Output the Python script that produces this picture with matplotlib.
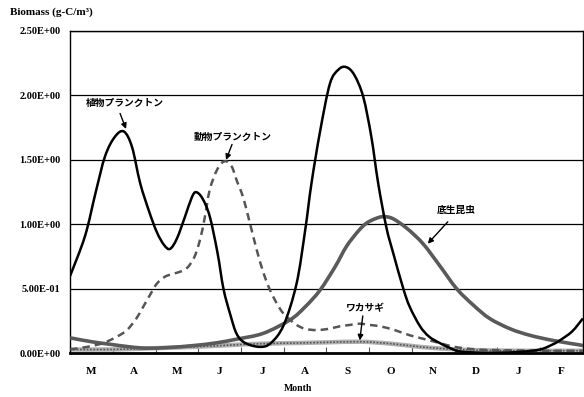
import matplotlib.pyplot as plt
from matplotlib.path import Path
from matplotlib.patches import PathPatch
import numpy as np

# month positions (0 = start of March) and values
month_labels = ["M", "A", "M", "J", "J", "A", "S", "O", "N", "D", "J", "F"]
y_ticks = [0.0, 0.5, 1.0, 1.5, 2.0, 2.5]
y_tick_labels = ["0.00E+00", "5.00E-01", "1.00E+00", "1.50E+00", "2.00E+00", "2.50E+00"]

phyto_x = [0.0, 0.35, 0.6, 0.82, 1.05, 1.26, 1.45, 1.64, 1.85, 2.03, 2.2, 2.34, 2.5,
           2.69, 2.85, 2.95, 3.1, 3.27, 3.45, 3.59, 3.75, 3.9, 4.1, 4.44, 4.7, 5.0,
           5.3, 5.5, 5.65, 5.85, 6.08, 6.28, 6.46, 6.65, 6.86, 7.05, 7.21, 7.4, 7.56,
           7.8, 7.95, 8.19, 8.4, 8.65, 8.9, 9.12, 9.6, 10.0, 10.5, 11.0, 11.3, 11.46,
           11.75, 12.0]
phyto_y = [0.60, 0.91, 1.25, 1.53, 1.68, 1.72, 1.60, 1.32, 1.10, 0.94, 0.84, 0.81, 0.89,
           1.06, 1.21, 1.25, 1.20, 1.06, 0.78, 0.50, 0.30, 0.15, 0.08, 0.05, 0.08, 0.22,
           0.54, 0.95, 1.32, 1.72, 2.09, 2.20, 2.22, 2.16, 1.99, 1.68, 1.32, 0.98, 0.78,
           0.50, 0.36, 0.21, 0.13, 0.08, 0.04, 0.015, 0.005, 0.005, 0.01, 0.03, 0.07, 0.10,
           0.17, 0.27]

zoo_x = [0.0, 0.4, 0.78, 1.1, 1.33, 1.55, 1.71, 1.9, 2.03, 2.2, 2.34, 2.55, 2.73, 2.9,
         3.04, 3.15, 3.27, 3.45, 3.62, 3.78, 3.9, 4.05, 4.2, 4.37, 4.52, 4.68, 4.85, 4.99,
         5.15, 5.3, 5.5, 5.77, 6.05, 6.32, 6.55, 6.78, 7.0, 7.25, 7.6, 7.95, 8.3, 8.65,
         9.0, 9.5, 10.0, 11.0, 12.0]
zoo_y = [0.03, 0.05, 0.08, 0.13, 0.18, 0.27, 0.36, 0.47, 0.54, 0.59, 0.61, 0.63, 0.66, 0.74,
         0.88, 1.05, 1.27, 1.43, 1.49, 1.45, 1.34, 1.21, 1.02, 0.80, 0.63, 0.49, 0.38, 0.31,
         0.26, 0.22, 0.19, 0.18, 0.19, 0.21, 0.22, 0.23, 0.22, 0.21, 0.18, 0.14, 0.11, 0.08,
         0.05, 0.03, 0.025, 0.02, 0.02]

benthic_x = [0.0, 0.5, 0.94, 1.4, 1.79, 2.3, 2.88, 3.4, 3.9, 4.52, 5.15, 5.5, 5.85, 6.2,
             6.47, 6.75, 6.94, 7.15, 7.33, 7.55, 7.88, 8.26, 8.65, 9.05, 9.45, 9.82, 10.3,
             10.76, 11.3, 11.93, 12.0]
benthic_y = [0.12, 0.09, 0.07, 0.05, 0.04, 0.045, 0.06, 0.08, 0.11, 0.155, 0.26, 0.36, 0.49,
             0.67, 0.83, 0.95, 1.01, 1.045, 1.06, 1.045, 0.97, 0.85, 0.68, 0.50, 0.37, 0.27,
             0.19, 0.14, 0.10, 0.065, 0.06]

smelt_x = [0.0, 1.0, 2.0, 2.9, 3.8, 4.5, 5.3, 6.0, 6.8, 7.5, 8.2, 8.8, 9.5, 10.5, 12.0]
smelt_y = [0.03, 0.03, 0.04, 0.05, 0.065, 0.075, 0.08, 0.085, 0.09, 0.075, 0.05, 0.035,
           0.025, 0.02, 0.02]

jp = ["Noto Sans CJK JP", "DejaVu Sans"]
serif = "Liberation Serif"


def smooth_line(ax, xs, ys, **kw):
    """Draw a smoothed line (like Excel) through the points as bezier curves"""
    p = np.column_stack([xs, ys])
    # padded ends for the tangents
    ext = np.vstack([p[0], p, p[-1]])
    verts = [tuple(p[0])]
    codes = [Path.MOVETO]
    for i in range(1, len(ext) - 2):
        p0, p1, p2, p3 = ext[i - 1], ext[i], ext[i + 1], ext[i + 2]
        c1 = p1 + (p2 - p0) / 6.0
        c2 = p2 - (p3 - p1) / 6.0
        verts += [tuple(c1), tuple(c2), tuple(p2)]
        codes += [Path.CURVE4] * 3
    patch = PathPatch(Path(verts, codes), fill=False, **kw)
    ax.add_patch(patch)


fig = plt.figure(figsize=(5.84, 3.97), dpi=100)
ax = fig.add_axes([0.12, 0.11, 0.878, 0.812])

for v in y_ticks[1:]:
    ax.axhline(v, color="black", lw=0.9, zorder=1)

# smelt: hatched light band
smooth_line(ax, smelt_x, smelt_y, edgecolor="#b0b0b0", lw=3.2, zorder=2)
smooth_line(ax, smelt_x, smelt_y, edgecolor="#555555", lw=1.2, ls=(0, (1, 1)), zorder=2)
smooth_line(ax, benthic_x, benthic_y, edgecolor="#5a5a5a", lw=2.6, zorder=3)
smooth_line(ax, zoo_x, zoo_y, edgecolor="#555555", lw=1.8, ls=(0, (3, 2)), zorder=4)
smooth_line(ax, phyto_x, phyto_y, edgecolor="black", lw=1.8, zorder=5)

ax.set_xlim(0, 12)
ax.set_ylim(0, 2.5)
ax.set_yticks(y_ticks)
ax.set_yticklabels(y_tick_labels, fontsize=7.5, fontweight="bold", family=serif)
ax.set_xticks(np.arange(0, 13))
ax.set_xticklabels([])
ax.set_xticks(np.arange(12) + 0.5, minor=True)
ax.set_xticklabels(month_labels, minor=True, fontsize=8, fontweight="bold", family=serif)
ax.tick_params(axis="x", which="major", direction="in", length=4, color="#555555")
ax.tick_params(axis="x", which="minor", length=0, pad=10)
ax.tick_params(axis="y", length=0, pad=7)
ax.spines["bottom"].set_linewidth(2)
for s in ["left", "right", "top"]:
    ax.spines[s].set_linewidth(1)

fig.text(0.017, 0.962, "Biomass (g-C/m³)", fontsize=8, fontweight="bold", family=serif)
fig.text(0.51, 0.015, "Month", fontsize=7, fontweight="bold", family=serif, ha="center")

# labels with their arrows
arrow = dict(arrowstyle="-|>", color="black", lw=1, mutation_scale=8,
             shrinkA=0, shrinkB=0)
labels = [
    ("植物プランクトン", (1.29, 1.94), (1.17, 1.86), (1.31, 1.74)),
    ("動物プランクトン", (3.81, 1.68), (3.79, 1.62), (3.65, 1.50)),
    ("底生昆虫", (9.03, 1.11), (8.84, 1.02), (8.37, 0.85)),
    ("ワカサギ", (6.9, 0.35), (6.85, 0.29), (6.78, 0.10)),
]
for txt, pos, tail, head in labels:
    ax.text(pos[0], pos[1], txt, fontsize=7, fontweight="bold", family=jp,
            ha="center", va="center", zorder=6)
    ax.annotate("", xy=head, xytext=tail, arrowprops=arrow, zorder=6)

fig.savefig("out.png", dpi=100)
